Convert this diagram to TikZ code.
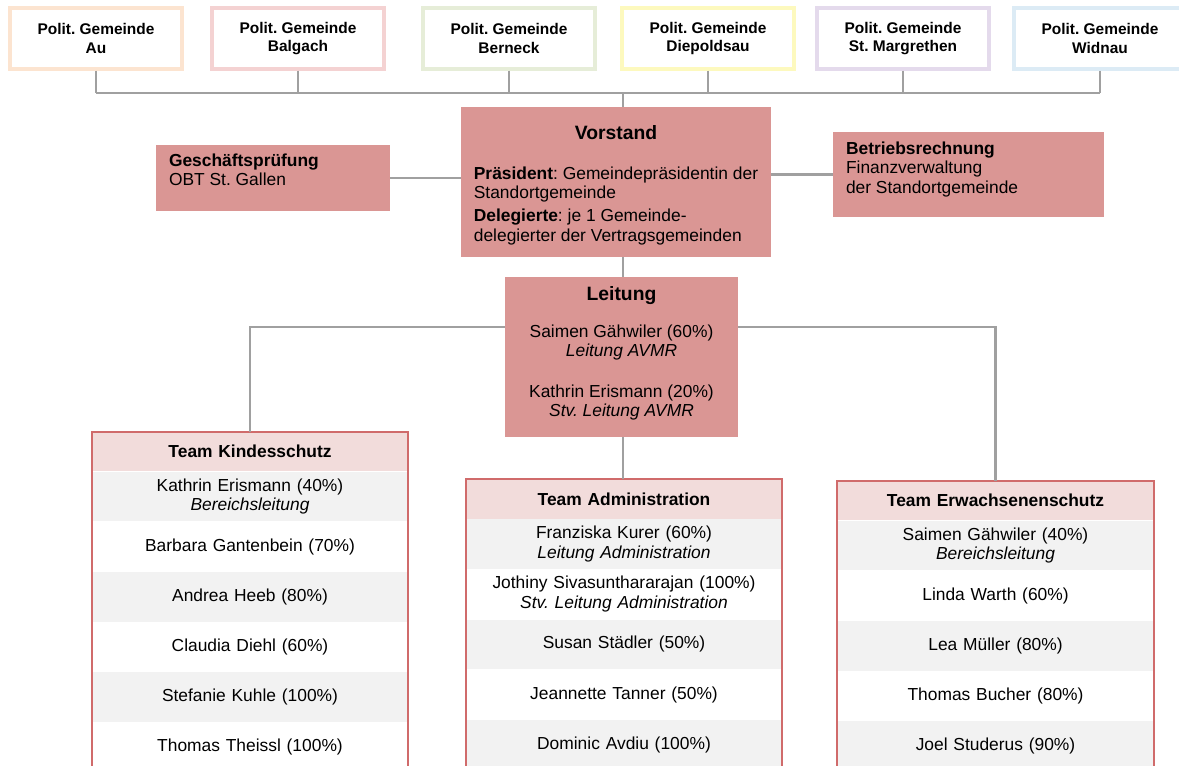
\documentclass[tikz,border=0pt]{standalone}
\usepackage{fontspec}
\setmainfont{Liberation Sans}
\usetikzlibrary{positioning}
\definecolor{boxred}{HTML}{DA9694}
\definecolor{headred}{HTML}{F2DCDB}
\definecolor{framered}{HTML}{D06B6B}
\definecolor{rowgray}{HTML}{F2F2F2}
\definecolor{linegray}{HTML}{A0A0A0}
\definecolor{gemau}{HTML}{FCE4D0}
\definecolor{gembal}{HTML}{F4D2D2}
\definecolor{gember}{HTML}{E6EDD8}
\definecolor{gemdie}{HTML}{FDF9BE}
\definecolor{gemmar}{HTML}{E4DAEC}
\definecolor{gemwid}{HTML}{DCEBF5}
\newcommand\bodyfont{\fontsize{9.9}{11}\selectfont}
\newcommand\titlefont{\fontsize{11}{13}\selectfont\bfseries}
\tikzset{
    conn/.style = {draw=linegray, line width=1.5pt},
    gemeinde/.style = {
        draw, line width=1.8pt, fill=white,
        minimum width=3.44cm, minimum height=1.22cm,
        align=center,
        font=\fontsize{8.8}{10.5}\selectfont\bfseries
    },
    orgbox/.style = {fill=boxred, inner sep=0pt, font=\bodyfont},
    teamhead/.style = {
        fill=headred, text width=6cm, inner xsep=0.16cm, inner ysep=0pt,
        minimum height=0.78cm, align=center,
        font=\bodyfont\bfseries
    },
    rowodd/.style = {
        fill=rowgray, text width=6cm, inner xsep=0.16cm, inner ysep=0pt,
        minimum height=0.99cm, align=center,
        font=\bodyfont
    },
    roweven/.style = {rowodd, fill=white},
    teamframe/.style = {draw=framered, line width=1.1pt}
}
\frenchspacing

\begin{document}
\begin{tikzpicture}[x=0.02cm, y=-0.02cm]

    \useasboundingbox (0,0) rectangle (1179,765);
    \clip (0,0) rectangle (1179,765);

    % Gemeinden
    \foreach \id/\ort/\col/\x in {au/Au/gemau/96, balgach/Balgach/gembal/298,
        berneck/Berneck/gember/509, diepoldsau/Diepoldsau/gemdie/708,
        margrethen/St. Margrethen/gemmar/903, widnau/Widnau/gemwid/1100}
        \node[gemeinde, draw=\col] (\id) at (\x,38.5) {Polit. Gemeinde\\\ort};

    % Vorstand
    \node[orgbox, minimum width=6.2cm, minimum height=3cm] (vorstand) at (616,182) {%
        \begin{tabular}{@{}l@{}}
            \multicolumn{1}{@{}c@{}}{\rule{0pt}{12.5pt}\titlefont Vorstand}\\[12pt]
            \textbf{Präsident}: Gemeindepräsidentin der\\
            Standortgemeinde\\[2pt]
            \textbf{Delegierte}: je 1 Gemeinde-\\
            delegierter der Vertragsgemeinden
        \end{tabular}};

    \node[orgbox, minimum width=4.68cm, minimum height=1.32cm] (gp) at (273,178)
        {\parbox[c][0.98cm][t]{4.16cm}{\textbf{Geschäftsprüfung}\\OBT St. Gallen}};
    \node[orgbox, minimum width=5.42cm, minimum height=1.7cm] (br) at (968.5,174.5)
        {\parbox[c][1.3cm][t]{4.9cm}{\textbf{Betriebsrechnung}\\Finanzverwaltung\\der Standortgemeinde}};

    % Leitung
    \node[orgbox, minimum width=4.66cm, minimum height=3.2cm, align=center] (leitung) at (621.5,357)
        {{\titlefont Leitung}\\[10pt]
         Saimen Gähwiler (60\%)\\\textit{Leitung AVMR}\\[12pt]
         Kathrin Erismann (20\%)\\\textit{Stv. Leitung AVMR}\rule[-6pt]{0pt}{6pt}};

    % Team Kindesschutz
    \node[teamhead] (k0) at (250,451.5) {Team Kindesschutz};
    \foreach \txt [count=\i, evaluate=\i as \j using int(\i-1)] in
        {{Kathrin Erismann (40\%)\\\textit{Bereichsleitung}}, Barbara Gantenbein (70\%),
         Andrea Heeb (80\%), Claudia Diehl (60\%), Stefanie Kuhle (100\%), Thomas Theissl (100\%)}{
        \ifodd\i \def\rs{rowodd}\else \def\rs{roweven}\fi
        \node[\rs, below=0pt of k\j] (k\i) {\txt};
    }
    \draw[teamframe] (k0.north west) rectangle (k6.south east);

    % Team Administration
    \node[teamhead] (a0) at (624,499) {Team Administration};
    \foreach \txt [count=\i, evaluate=\i as \j using int(\i-1)] in
        {{Franziska Kurer (60\%)\\\textit{Leitung Administration}},
         {Jothiny Sivasunthararajan (100\%)\\\textit{Stv. Leitung Administration}},
         Susan Städler (50\%), Jeannette Tanner (50\%), Dominic Avdiu (100\%)}{
        \ifodd\i \def\rs{rowodd}\else \def\rs{roweven}\fi
        \node[\rs, below=0pt of a\j] (a\i) {\txt};
    }
    \draw[teamframe] (a0.north west) rectangle (a5.south east);

    % Team Erwachsenenschutz
    \node[teamhead] (e0) at (995.5,500.5) {Team Erwachsenenschutz};
    \foreach \txt [count=\i, evaluate=\i as \j using int(\i-1)] in
        {{Saimen Gähwiler (40\%)\\\textit{Bereichsleitung}}, Linda Warth (60\%),
         Lea Müller (80\%), Thomas Bucher (80\%), Joel Studerus (90\%)}{
        \ifodd\i \def\rs{rowodd}\else \def\rs{roweven}\fi
        \node[\rs, below=0pt of e\j] (e\i) {\txt};
    }
    \draw[teamframe] (e0.north west) rectangle (e5.south east);

    % Lines
    \coordinate (bus) at (623,93);
    \foreach \id in {au,balgach,berneck,diepoldsau,margrethen,widnau}
        \draw[conn] (\id.south) -- (\id.south |- bus);
    \draw[conn] (au.south |- bus) -- (widnau.south |- bus);
    \draw[conn] (bus) -- (bus |- vorstand.north);
    \draw[conn] (gp.east) -- (gp.east -| vorstand.west);
    \draw[conn] (br.west) -- (br.west -| vorstand.east);
    \draw[conn] (bus |- vorstand.south) -- (bus |- leitung.north);
    \draw[conn] (bus |- leitung.south) -- (bus |- a0.north);
    \draw[conn] ([yshift=0.6cm]leitung.west) -| (k0.north);
    \draw[conn] ([yshift=0.6cm]leitung.east) -| (e0.north);

\end{tikzpicture}
\end{document}
